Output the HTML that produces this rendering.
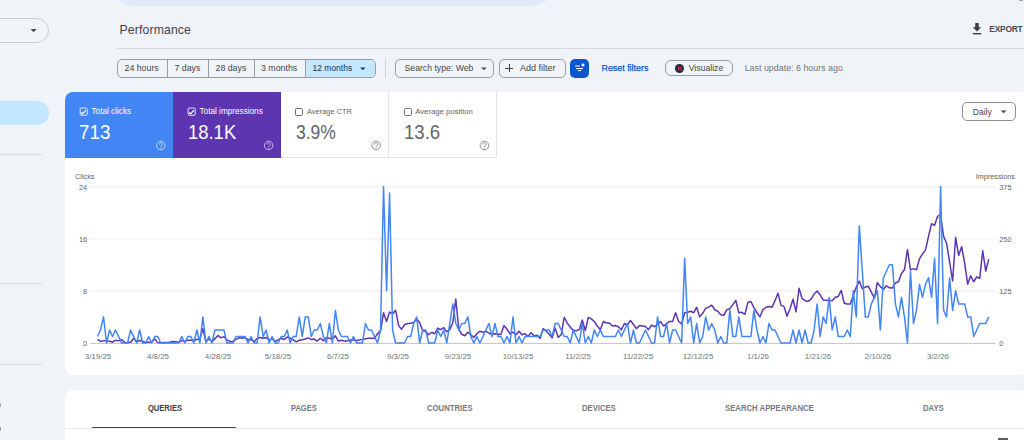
<!DOCTYPE html>
<html><head><meta charset="utf-8">
<style>
*{box-sizing:border-box;margin:0;padding:0}
html,body{width:1024px;height:440px;overflow:hidden;background:#f0f4f9;font-family:"Liberation Sans",sans-serif;color:#444746}
.a{position:absolute;white-space:nowrap}
.t{position:absolute;white-space:nowrap;line-height:1}
.btn{position:absolute;border:1px solid #9a9da0;border-radius:5px}
.sep{position:absolute;height:1px;background:#d9dcdf}
.card{position:absolute;background:#fff;border-radius:8px}
.tile{position:absolute;top:92px;height:66px;width:108px}
.cb{position:absolute;width:8.2px;height:8px;border:1px solid;border-radius:1.5px}
.help{position:absolute;width:9px;height:9px;border:1px solid;border-radius:50%;font-size:6.5px;line-height:7px;text-align:center;font-weight:700}
.tab{position:absolute;top:403.6px;font-size:8.7px;font-weight:700;color:#5f6368;line-height:1;transform-origin:0 0}
</style></head><body>

<!-- top search bar -->
<div class="a" style="left:109px;top:-46.5px;width:448px;height:52px;border-radius:26px;background:#e1eafb"></div>
<div class="a" style="left:1017.5px;top:-3px;width:6.5px;height:4px;border-radius:2px;background:#d5d6da"></div><div class="a" style="left:1019.8px;top:-3px;width:2.4px;height:4px;border-radius:1px;background:#6e7078"></div>

<!-- sidebar -->
<div class="a" style="left:-30px;top:18px;width:79px;height:25px;border:1px solid #c9cccf;border-radius:13px"></div>
<svg class="a" style="left:0;top:0" width="1024" height="440"><path d="M30.6 29h6l-3.0 3.2z" fill="#46484b"/></svg>
<div class="a" style="left:-30px;top:101px;width:79px;height:24px;border-radius:12px;background:#c2e7ff"></div>
<div class="sep" style="left:0;top:154px;width:42px"></div>
<div class="sep" style="left:0;top:283px;width:42px"></div>
<div class="sep" style="left:0;top:364px;width:42px"></div>
<div class="a" style="left:-1px;top:403px;width:2.2px;height:4px;border-radius:1px;background:#a3a5a9"></div>
<div class="a" style="left:-1px;top:427px;width:2.2px;height:4px;border-radius:1px;background:#95979b"></div>

<!-- header -->
<div class="t" style="left:119.6px;top:24.2px;font-size:12.2px;letter-spacing:0.15px;color:#404346">Performance</div>
<div class="sep" style="left:117px;top:48px;width:907px"></div>
<svg class="a" style="left:972px;top:23px" width="10" height="12" viewBox="0 0 10 12"><path d="M3.2 0h3.6v4.2h2.4L5 8.6 0.8 4.2h2.4z" fill="#3c4043"/><rect x="0.8" y="10" width="8.4" height="1.4" fill="#3c4043"/></svg>
<div class="t" style="left:989.3px;top:25px;font-size:8.4px;font-weight:700;letter-spacing:-0.22px;color:#48494c">EXPORT</div>

<!-- filter row -->
<div class="btn" style="left:117px;top:58.5px;width:259px;height:19.5px;overflow:hidden">
  <div class="a" style="left:186.6px;top:0;width:73px;height:18px;background:#c2e7ff"></div>
  <div class="a" style="left:48.6px;top:0;width:1px;height:18px;background:#9a9da0"></div>
  <div class="a" style="left:89.5px;top:0;width:1px;height:18px;background:#9a9da0"></div>
  <div class="a" style="left:135.5px;top:0;width:1px;height:18px;background:#9a9da0"></div>
  <div class="a" style="left:186.6px;top:0;width:1px;height:18px;background:#9a9da0"></div>
</div>
<div class="t" style="left:124.5px;top:63.8px;font-size:8.8px">24 hours</div>
<div class="t" style="left:174.5px;top:63.8px;font-size:8.8px">7 days</div>
<div class="t" style="left:215.5px;top:63.8px;font-size:8.8px">28 days</div>
<div class="t" style="left:261px;top:63.8px;font-size:8.8px">3 months</div>
<div class="t" style="left:312.5px;top:63.8px;font-size:8.5px;color:#0a3a60">12 months</div>
<svg class="a" style="left:0;top:0" width="1024" height="440"><path d="M360.1 67.4h5.3l-2.65 2.8z" fill="#0a3a60"/></svg>
<div class="a" style="left:385px;top:59px;width:1px;height:19px;background:#d0d3d6"></div>

<div class="btn" style="left:395px;top:58.5px;width:99px;height:19.5px"></div>
<div class="t" style="left:404.5px;top:63.8px;font-size:8.7px">Search type: Web</div>
<svg class="a" style="left:0;top:0" width="1024" height="440"><path d="M481.2 67.4h5.4l-2.7 2.8z" fill="#444746"/></svg>

<div class="btn" style="left:499px;top:58.5px;width:66.5px;height:19.5px"></div>
<div class="a" style="left:505.2px;top:67.6px;width:7.8px;height:1px;background:#3c4043"></div>
<div class="a" style="left:508.6px;top:64.2px;width:1px;height:7.8px;background:#3c4043"></div>
<div class="t" style="left:520px;top:63.8px;font-size:9px">Add filter</div>

<div class="a" style="left:570px;top:58.8px;width:19.2px;height:19px;border-radius:5px;background:#0b57d0"></div>
<svg class="a" style="left:568px;top:56px" width="24" height="24" viewBox="568 56 24 24"><rect x="575.1" y="65.4" width="4.9" height="1.2" fill="#dfe8fa"/><rect x="576.2" y="68" width="6.8" height="1.1" fill="#fff"/><rect x="578.1" y="70.1" width="3" height="1" fill="#fff"/><path d="M583 62.8l0.7 1.5 1.5 0.7-1.5 0.7-0.7 1.5-0.7-1.5-1.5-0.7 1.5-0.7z" fill="#fff"/><circle cx="583" cy="65" r="1.1" fill="#fff"/></svg>
<div class="t" style="left:601.5px;top:63.8px;font-size:8.9px;color:#0b57d0;font-weight:400;-webkit-text-stroke:0.25px #0b57d0">Reset filters</div>

<div class="btn" style="left:665px;top:60px;width:67.5px;height:16px;border-radius:6px"></div>
<div class="a" style="left:674.8px;top:63.5px;width:9.2px;height:9.2px;border-radius:50%;background:#1e2a3f"></div>
<div class="t" style="left:677.2px;top:65px;font-size:7px;font-weight:700;color:#c0392b">K</div>
<div class="t" style="left:688.7px;top:63.8px;font-size:8.7px">Visualize</div>
<div class="t" style="left:744.7px;top:63.8px;font-size:8.9px;color:#70757a">Last update: 6 hours ago</div>

<!-- chart card -->
<div class="card" style="left:65px;top:92px;width:962px;height:283px"></div>
<div class="tile" style="left:65px;background:#4285f4;border-top-left-radius:8px"></div>
<div class="tile" style="left:173px;background:#5e35b1"></div>
<div class="tile" style="left:281px;border-right:1px solid #e3e3e3;border-bottom:1px solid #e3e3e3;width:108px"></div>
<div class="tile" style="left:389px;border-right:1px solid #e3e3e3;border-bottom:1px solid #e3e3e3;width:107.5px"></div>

<svg class="a" style="left:79.2px;top:107.2px" width="10" height="10" viewBox="0 0 10 10"><rect x="1.15" y="1.05" width="7.1" height="7.2" rx="1.2" fill="none" stroke="#e6eefc" stroke-width="0.95"/><path d="M2.1 5.5L3.6 6.8 7 3.1" fill="none" stroke="#fff" stroke-width="1.2"/></svg>
<div class="t" style="left:91.5px;top:108px;font-size:8.2px;color:#fff">Total clicks</div>
<div class="t" style="left:79.1px;top:122.7px;font-size:19.3px;color:#fff;transform:scaleX(0.975);transform-origin:0 0">713</div>
<svg class="a" style="left:154px;top:139px" width="12" height="12" viewBox="-6.80 -6.40 12 12"><circle cx="0" cy="0" r="4.25" fill="none" stroke="#d2e2fd" stroke-width="0.85"/><path d="M-1.55 -0.95a1.6 1.6 0 1 1 2.5 1.3c-0.7 0.45 -0.95 0.75 -0.95 1.45" fill="none" stroke="#d2e2fd" stroke-width="0.85"/><circle cx="0" cy="2.6" r="0.5" fill="#d2e2fd"/></svg>

<svg class="a" style="left:186.9px;top:107.2px" width="10" height="10" viewBox="0 0 10 10"><rect x="1.15" y="1.05" width="7.1" height="7.2" rx="1.2" fill="none" stroke="#e6eefc" stroke-width="0.95"/><path d="M2.1 5.5L3.6 6.8 7 3.1" fill="none" stroke="#fff" stroke-width="1.2"/></svg>
<div class="t" style="left:199.5px;top:108px;font-size:8.2px;color:#fff">Total impressions</div>
<div class="t" style="left:187.9px;top:122.7px;font-size:19.3px;color:#fff;transform:scaleX(0.956);transform-origin:0 0">18.1K</div>
<svg class="a" style="left:262px;top:139px" width="12" height="12" viewBox="-6.60 -6.40 12 12"><circle cx="0" cy="0" r="4.25" fill="none" stroke="#d9cfee" stroke-width="0.85"/><path d="M-1.55 -0.95a1.6 1.6 0 1 1 2.5 1.3c-0.7 0.45 -0.95 0.75 -0.95 1.45" fill="none" stroke="#d9cfee" stroke-width="0.85"/><circle cx="0" cy="2.6" r="0.5" fill="#d9cfee"/></svg>

<div class="cb" style="left:295.2px;top:107.6px;border-color:#6b6e72"></div>
<div class="t" style="left:307px;top:107.6px;font-size:7.45px;color:#5f6368">Average CTR</div>
<div class="t" style="left:295.6px;top:122.7px;font-size:19.3px;color:#62666a;transform:scaleX(0.909);transform-origin:0 0">3.9%</div>
<svg class="a" style="left:370px;top:139px" width="12" height="12" viewBox="-6.10 -6.40 12 12"><circle cx="0" cy="0" r="4.25" fill="none" stroke="#7d8186" stroke-width="0.85"/><path d="M-1.55 -0.95a1.6 1.6 0 1 1 2.5 1.3c-0.7 0.45 -0.95 0.75 -0.95 1.45" fill="none" stroke="#7d8186" stroke-width="0.85"/><circle cx="0" cy="2.6" r="0.5" fill="#7d8186"/></svg>

<div class="cb" style="left:403.5px;top:107.6px;border-color:#6b6e72"></div>
<div class="t" style="left:415.2px;top:107.6px;font-size:7.75px;color:#5f6368">Average position</div>
<div class="t" style="left:403.6px;top:122.7px;font-size:19.3px;color:#62666a;transform:scaleX(0.965);transform-origin:0 0">13.6</div>
<svg class="a" style="left:478px;top:139px" width="12" height="12" viewBox="-6.40 -6.40 12 12"><circle cx="0" cy="0" r="4.25" fill="none" stroke="#7d8186" stroke-width="0.85"/><path d="M-1.55 -0.95a1.6 1.6 0 1 1 2.5 1.3c-0.7 0.45 -0.95 0.75 -0.95 1.45" fill="none" stroke="#7d8186" stroke-width="0.85"/><circle cx="0" cy="2.6" r="0.5" fill="#7d8186"/></svg>

<div class="btn" style="left:962px;top:102px;width:53.5px;height:18.5px;border-radius:5px;border-color:#8f9190"></div>
<div class="t" style="left:972.7px;top:108px;font-size:8.6px">Daily</div>
<svg class="a" style="left:0;top:0" width="1024" height="440"><path d="M1000.9 110.4h5.5l-2.75 2.8z" fill="#444746"/></svg>

<!-- chart -->
<svg class="a" style="left:0;top:0" width="1024" height="440" viewBox="0 0 1024 440" id="chart">
<g stroke="#f2f2f2" stroke-width="1.4">
<line x1="90.5" y1="186.7" x2="995.5" y2="186.7"/>
<line x1="90.5" y1="238.9" x2="995.5" y2="238.9"/>
<line x1="90.5" y1="291" x2="995.5" y2="291"/>
</g>
<line x1="90.5" y1="343.4" x2="995.5" y2="343.4" stroke="#c4c4c4" stroke-width="1"/>
<g font-family="Liberation Sans" font-size="7.3" fill="#5f6368">
<text x="75" y="179.2">Clicks</text>
<text x="87" y="189.5" text-anchor="end">24</text>
<text x="87" y="241.5" text-anchor="end">16</text>
<text x="87" y="293.5" text-anchor="end">8</text>
<text x="87" y="346" text-anchor="end">0</text>
<text x="1015" y="179.2" text-anchor="end">Impressions</text>
<text x="999.3" y="189.5">375</text>
<text x="999.3" y="241.5">250</text>
<text x="999.3" y="293.5">125</text>
<text x="999.3" y="346">0</text>
</g>
<g font-family="Liberation Sans" font-size="7.9" fill="#70757a" text-anchor="middle" id="xl">
<text x="98" y="358.5">3/19/25</text>
<text x="158" y="358.5">4/8/25</text>
<text x="218" y="358.5">4/28/25</text>
<text x="278" y="358.5">5/18/25</text>
<text x="338" y="358.5">6/7/25</text>
<text x="398" y="358.5">9/3/25</text>
<text x="458" y="358.5">9/23/25</text>
<text x="518" y="358.5">10/13/25</text>
<text x="578" y="358.5">11/2/25</text>
<text x="638" y="358.5">11/22/25</text>
<text x="698" y="358.5">12/12/25</text>
<text x="758" y="358.5">1/1/26</text>
<text x="818" y="358.5">1/21/26</text>
<text x="878" y="358.5">2/10/26</text>
<text x="938" y="358.5">3/2/26</text>
</g>
<polyline id="imp" fill="none" stroke="#5e35b1" stroke-width="1.5" stroke-linejoin="round" points="97.50,339.44 100.51,341.42 103.52,340.63 106.53,341.03 109.54,341.26 112.56,342.22 115.57,340.23 118.58,340.87 121.59,339.44 124.60,342.22 127.61,342.62 130.62,342.22 133.63,338.24 136.64,341.82 139.65,340.47 142.66,341.42 145.68,342.46 148.69,342.22 151.70,341.98 154.71,339.04 157.72,342.62 160.73,342.78 163.74,342.62 166.75,342.46 169.76,342.22 172.78,341.42 175.79,341.82 178.80,342.22 181.81,340.63 184.82,341.42 187.83,340.23 190.84,340.23 193.85,340.23 196.86,339.44 199.87,339.04 202.88,328.70 205.90,341.82 208.91,338.64 211.92,341.82 214.93,338.64 217.94,335.46 220.95,337.84 223.96,336.65 226.97,339.83 229.98,341.42 233.00,341.42 236.01,339.44 239.02,337.84 242.03,338.24 245.04,337.45 248.05,339.83 251.06,339.44 254.07,341.82 257.08,338.64 260.09,337.45 263.11,338.24 266.12,337.45 269.13,339.83 272.14,338.64 275.15,341.42 278.16,339.83 281.17,338.24 284.18,339.44 287.19,337.05 290.20,338.24 293.22,339.83 296.23,341.82 299.24,340.23 302.25,339.83 305.26,339.04 308.27,337.84 311.28,339.44 314.29,339.04 317.30,341.03 320.31,338.24 323.33,340.63 326.34,337.84 329.35,338.24 332.36,339.04 335.37,335.86 338.38,341.03 341.39,340.23 344.40,341.03 347.41,340.91 350.42,339.89 353.44,339.89 356.45,340.40 359.46,339.89 362.47,339.37 365.48,338.66 368.49,338.35 371.50,338.35 374.51,338.35 377.52,333.75 380.53,330.68 383.55,312.78 386.56,321.48 389.57,312.07 392.58,313.81 395.59,310.23 398.60,325.57 401.61,329.15 404.62,324.54 407.63,323.52 410.64,323.32 413.66,322.50 416.67,318.92 419.68,322.50 422.69,330.68 425.70,331.19 428.71,334.77 431.72,332.22 434.73,333.75 437.74,328.12 440.75,329.66 443.76,327.61 446.78,331.70 449.79,329.66 452.80,322.50 455.81,298.98 458.82,329.66 461.83,334.26 464.84,335.79 467.85,332.22 470.86,334.77 473.88,337.33 476.89,333.75 479.90,331.19 482.91,332.22 485.92,331.19 488.93,333.24 491.94,334.26 494.95,333.75 497.96,334.26 500.97,334.26 503.99,325.57 507.00,329.15 510.01,333.75 513.02,332.22 516.03,334.77 519.04,331.19 522.05,334.77 525.06,333.75 528.07,336.31 531.08,332.73 534.10,335.79 537.11,335.28 540.12,338.35 543.13,328.64 546.14,331.19 549.15,334.26 552.16,337.84 555.17,328.12 558.18,337.33 561.19,334.77 564.21,317.39 567.22,323.01 570.23,327.10 573.24,330.17 576.25,330.68 579.26,329.66 582.27,319.94 585.28,330.68 588.29,317.39 591.30,318.92 594.32,321.48 597.33,326.08 600.34,329.66 603.35,321.48 606.36,323.01 609.37,323.01 612.38,326.08 615.39,325.57 618.40,326.79 621.41,329.66 624.43,323.52 627.44,325.06 630.45,320.45 633.46,324.54 636.47,328.64 639.48,325.57 642.49,326.08 645.50,326.59 648.51,329.66 651.52,325.06 654.53,326.59 657.55,324.54 660.56,321.48 663.57,326.08 666.58,323.52 669.59,321.48 672.60,321.48 675.61,312.78 678.62,321.48 681.63,324.03 684.64,312.78 687.66,312.27 690.67,311.25 693.68,312.78 696.69,307.16 699.70,316.87 702.71,313.30 705.72,308.18 708.73,307.16 711.74,305.11 714.75,309.72 717.77,311.25 720.78,314.83 723.79,315.34 726.80,309.72 729.81,308.69 732.82,304.60 735.83,300.51 738.84,312.78 741.85,312.27 744.87,314.32 747.88,302.56 750.89,301.53 753.90,307.67 756.91,312.50 759.92,316.93 762.93,309.55 765.94,307.33 768.95,306.59 771.96,307.33 774.98,300.68 777.99,293.30 781.00,305.11 784.01,306.59 787.02,316.19 790.03,308.81 793.04,299.21 796.05,311.76 799.06,288.13 802.07,298.47 805.09,300.68 808.10,301.42 811.11,299.21 814.12,294.03 817.13,291.08 820.14,294.77 823.15,299.94 826.16,300.34 829.17,300.34 832.18,300.68 835.20,297.27 838.21,296.42 841.22,290.45 844.23,303.24 847.24,304.09 850.25,304.09 853.26,295.57 856.27,287.04 859.28,281.08 862.29,288.75 865.31,287.04 868.32,286.19 871.33,292.16 874.34,298.12 877.35,282.78 880.36,286.62 883.37,289.43 886.38,285.77 889.39,287.81 892.40,287.99 895.42,282.96 898.43,281.77 901.44,273.41 904.45,269.83 907.46,249.55 910.47,269.83 913.48,268.64 916.49,269.83 919.50,258.64 922.51,253.98 925.52,249.92 928.54,236.36 931.55,223.64 934.56,225.45 937.57,216.36 940.58,214.55 943.59,236.36 946.60,243.30 949.61,261.93 952.62,281.00 955.63,237.27 958.65,255.48 961.66,246.76 964.67,263.13 967.68,284.15 970.69,275.80 973.70,281.77 976.71,276.99 979.72,278.19 982.73,250.74 985.75,271.03 988.76,259.09"/>
<polyline id="clk" fill="none" stroke="#4285f4" stroke-width="1.5" stroke-linejoin="round" points="97.50,336.48 100.51,329.96 103.52,316.92 106.53,343.00 109.54,329.96 112.56,336.48 115.57,329.96 118.58,336.48 121.59,343.00 124.60,343.00 127.61,343.00 130.62,329.96 133.63,336.48 136.64,343.00 139.65,329.96 142.66,343.00 145.68,343.00 148.69,336.48 151.70,343.00 154.71,336.48 157.72,336.48 160.73,343.00 163.74,343.00 166.75,343.00 169.76,343.00 172.78,343.00 175.79,343.00 178.80,343.00 181.81,336.48 184.82,343.00 187.83,336.48 190.84,336.48 193.85,343.00 196.86,329.96 199.87,343.00 202.88,316.92 205.90,343.00 208.91,336.48 211.92,343.00 214.93,329.96 217.94,329.96 220.95,329.96 223.96,329.96 226.97,343.00 229.98,343.00 233.00,343.00 236.01,336.48 239.02,336.48 242.03,336.48 245.04,336.48 248.05,343.00 251.06,336.48 254.07,343.00 257.08,343.00 260.09,316.92 263.11,336.48 266.12,329.96 269.13,343.00 272.14,336.48 275.15,343.00 278.16,343.00 281.17,336.48 284.18,336.48 287.19,329.96 290.20,343.00 293.22,336.48 296.23,336.48 299.24,316.92 302.25,336.48 305.26,316.92 308.27,316.92 311.28,336.48 314.29,329.96 317.30,329.96 320.31,323.44 323.33,336.48 326.34,343.00 329.35,323.44 332.36,343.00 335.37,310.40 338.38,329.96 341.39,336.48 344.40,336.48 347.41,336.48 350.42,343.00 353.44,336.48 356.45,343.00 359.46,343.00 362.47,343.00 365.48,323.44 368.49,329.96 371.50,329.96 374.51,336.48 377.52,343.00 380.53,329.96 383.55,186.52 386.56,290.84 389.57,193.04 392.58,329.96 395.59,343.00 398.60,343.00 401.61,343.00 404.62,343.00 407.63,336.48 410.64,336.48 413.66,323.44 416.67,316.92 419.68,343.00 422.69,329.96 425.70,329.96 428.71,343.00 431.72,343.00 434.73,343.00 437.74,329.96 440.75,336.48 443.76,329.96 446.78,343.00 449.79,323.44 452.80,303.88 455.81,323.44 458.82,329.96 461.83,323.44 464.84,323.44 467.85,316.92 470.86,336.48 473.88,343.00 476.89,336.48 479.90,343.00 482.91,336.48 485.92,329.96 488.93,323.44 491.94,336.48 494.95,323.44 497.96,336.48 500.97,336.48 503.99,343.00 507.00,336.48 510.01,343.00 513.02,316.92 516.03,343.00 519.04,336.48 522.05,343.00 525.06,336.48 528.07,336.48 531.08,336.48 534.10,336.48 537.11,336.48 540.12,336.48 543.13,329.96 546.14,329.96 549.15,329.96 552.16,336.48 555.17,323.44 558.18,323.44 561.19,329.96 564.21,336.48 567.22,336.48 570.23,343.00 573.24,329.96 576.25,336.48 579.26,343.00 582.27,323.44 585.28,343.00 588.29,336.48 591.30,343.00 594.32,329.96 597.33,336.48 600.34,329.96 603.35,336.48 606.36,336.48 609.37,336.48 612.38,336.48 615.39,336.48 618.40,329.96 621.41,336.48 624.43,329.96 627.44,323.44 630.45,343.00 633.46,329.96 636.47,343.00 639.48,343.00 642.49,336.48 645.50,329.96 648.51,336.48 651.52,343.00 654.53,343.00 657.55,316.92 660.56,336.48 663.57,336.48 666.58,323.44 669.59,343.00 672.60,329.96 675.61,329.96 678.62,336.48 681.63,343.00 684.64,258.24 687.66,323.44 690.67,316.92 693.68,343.00 696.69,323.44 699.70,343.00 702.71,336.48 705.72,316.92 708.73,329.96 711.74,323.44 714.75,329.96 717.77,343.00 720.78,336.48 723.79,343.00 726.80,343.00 729.81,310.40 732.82,336.48 735.83,336.48 738.84,316.92 741.85,336.48 744.87,336.48 747.88,336.48 750.89,336.48 753.90,310.40 756.91,329.96 759.92,343.00 762.93,336.48 765.94,343.00 768.95,323.44 771.96,329.96 774.98,329.96 777.99,336.48 781.00,343.00 784.01,343.00 787.02,343.00 790.03,343.00 793.04,329.96 796.05,343.00 799.06,329.96 802.07,343.00 805.09,329.96 808.10,343.00 811.11,343.00 814.12,329.96 817.13,303.88 820.14,336.48 823.15,316.92 826.16,323.44 829.17,297.36 832.18,329.96 835.20,316.92 838.21,336.48 841.22,336.48 844.23,336.48 847.24,329.96 850.25,336.48 853.26,290.84 856.27,316.92 859.28,225.64 862.29,271.28 865.31,316.92 868.32,316.92 871.33,303.88 874.34,297.36 877.35,290.84 880.36,329.96 883.37,277.80 886.38,271.28 889.39,264.76 892.40,264.76 895.42,303.88 898.43,316.92 901.44,297.36 904.45,316.92 907.46,343.00 910.47,271.28 913.48,323.44 916.49,310.40 919.50,284.32 922.51,297.36 925.52,284.32 928.54,277.80 931.55,297.36 934.56,258.24 937.57,323.44 940.58,186.52 943.59,310.40 946.60,316.92 949.61,277.80 952.62,310.40 955.63,290.84 958.65,303.88 961.66,303.88 964.67,303.88 967.68,316.92 970.69,316.92 973.70,336.48 976.71,329.96 979.72,323.44 982.73,323.44 985.75,323.44 988.76,316.92"/>
</svg>

<!-- bottom tabs card -->
<div class="card" style="left:65px;top:389.5px;width:962px;height:60px"></div>
<div class="tab" style="left:147.8px;transform:scaleX(0.868);color:#3c4043">QUERIES</div>
<div class="tab" style="left:291.2px;transform:scaleX(0.862);color:#75797d">PAGES</div>
<div class="tab" style="left:426.8px;transform:scaleX(0.891);color:#75797d">COUNTRIES</div>
<div class="tab" style="left:581.8px;transform:scaleX(0.883);color:#75797d">DEVICES</div>
<div class="tab" style="left:725.1px;transform:scaleX(0.891);color:#75797d">SEARCH APPEARANCE</div>
<div class="tab" style="left:922.8px;transform:scaleX(0.888);color:#75797d">DAYS</div>
<div class="sep" style="left:65px;top:428px;width:959px;background:#ebebeb"></div>
<div class="a" style="left:92.2px;top:426.6px;width:143.5px;height:1.7px;border-radius:1px;background:#45484c"></div>
<div class="a" style="left:997.6px;top:437.6px;width:10.9px;height:3px;background:#5a5d61"></div>

</body></html>
